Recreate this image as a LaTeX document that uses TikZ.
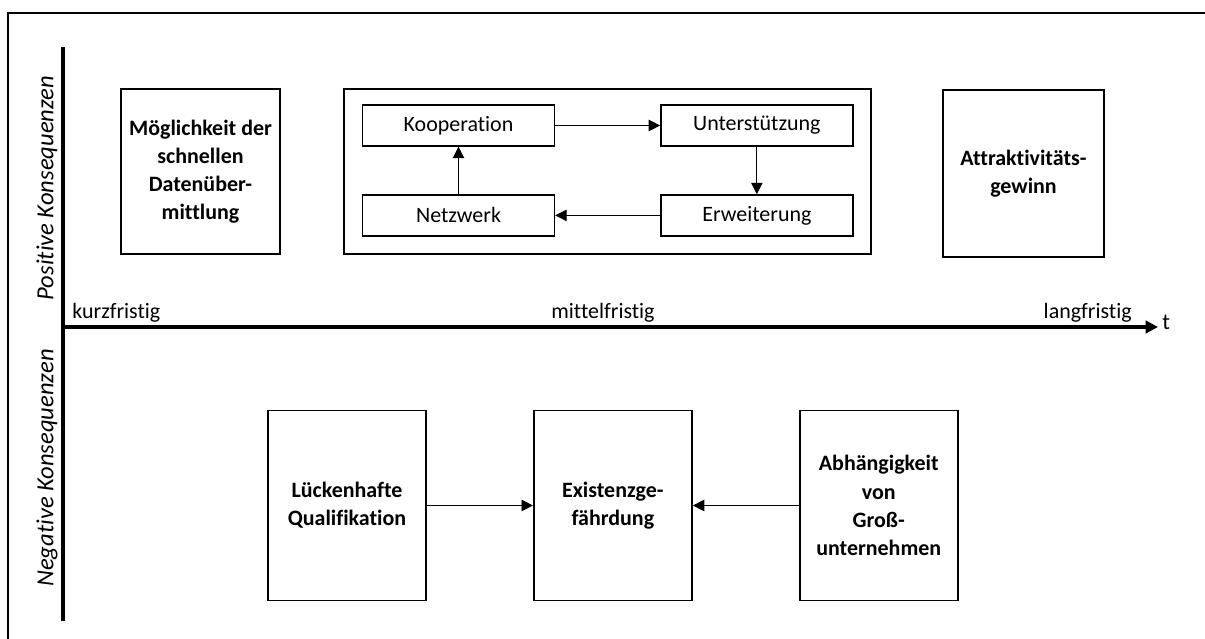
\documentclass[tikz,border=0pt]{standalone}
\usepackage{fontspec}
\setmainfont{Carlito}[Ligatures={NoCommon}]
\usetikzlibrary{shapes,arrows.meta,calc,positioning,backgrounds}

\begin{document}
\begin{tikzpicture}[x=0.02cm, y=-0.02cm,
  bigbox/.style={draw=black, line width=1.1pt, minimum width=3.18cm, minimum height=3.3cm, align=center, inner sep=2pt, font=\fontsize{12.5}{16}\selectfont\bfseries},
  lowbox/.style={bigbox, minimum width=3.16cm, minimum height=3.8cm},
  smallbox/.style={draw=black, line width=0.8pt, minimum width=3.84cm, minimum height=0.82cm, inner sep=0pt, font=\fontsize{12.5}{15}\selectfont},
  link/.style={line width=0.5pt, -{Triangle[length=6.5pt, width=6.5pt]}},
  axisline/.style={line width=2pt},
  timelabel/.style={inner sep=0pt, anchor=base, font=\fontsize{12.5}{15}\selectfont},
  sidelabel/.style={inner sep=0pt, rotate=90, font=\fontsize{14}{17}\selectfont\itshape}]
  \useasboundingbox (0,0) rectangle (1205,639);

  \coordinate (f0) at (8,639);
  \coordinate (f1) at (8,13);
  \coordinate (f2) at (1205,13);
  \draw[line width=1.1pt] (f0) -- (f1) -- (f2);

  \coordinate (o) at (63,327);
  \coordinate (ytop) at (63,47);
  \coordinate (ybot) at (63,621);
  \coordinate (tend) at (1158,327);
  \draw[axisline] (ytop) -- (ybot);
  \draw[axisline, -{Triangle[length=7pt, width=7pt]}] (o) -- (tend);

  \node[timelabel, anchor=base west] (kurz) at (72,318) {kurzfristig};
  \node[timelabel] (mittel) at (603,318) {mittelfristig};
  \node[timelabel, anchor=base east] (lang) at (1132,318) {langfristig};
  \node[inner sep=0pt, anchor=west, font=\fontsize{13}{15}\selectfont] (t) at (1162,322) {t};

  \node[sidelabel] (pos) at (47,188) {Positive Konsequenzen};
  \node[sidelabel] (neg) at (47,468) {Negative Konsequenzen};

  \node[bigbox] (daten) at (200.5,171.5) {Möglichkeit der\\schnellen\\Datenüber-\\mittlung};
  \node[draw=black, line width=1.1pt, minimum width=10.54cm, minimum height=3.3cm] (kreis) at (607.5,171.5) {};
  \node[smallbox] (koop) at (458.5,125.5) {Kooperation};
  \node[smallbox, right=2.1cm of koop] (unter) {Unterstützung};
  \node[smallbox, below=0.95cm of unter] (erw) {Erweiterung};
  \node[smallbox, below=0.95cm of koop] (netz) {Netzwerk};
  \node[bigbox, minimum width=3.22cm, minimum height=3.34cm] (attr) at (1023.5,173.5) {Attraktivitäts-\\gewinn};

  \node[lowbox] (lueck) at (347,505.5) {Lückenhafte\\Qualifikation};
  \node[lowbox, right=2.12cm of lueck] (exist) {Existenzge-\\fährdung};
  \node[lowbox, right=2.12cm of exist] (abh) {Abhängigkeit\\von\\Groß-\\unternehmen};

  \draw[link] (koop) -- (unter);
  \draw[link] (unter) -- (erw);
  \draw[link] (erw) -- (netz);
  \draw[link] (netz) -- (koop);
  \draw[link] (lueck) -- (exist);
  \draw[link] (abh) -- (exist);
\end{tikzpicture}
\end{document}
